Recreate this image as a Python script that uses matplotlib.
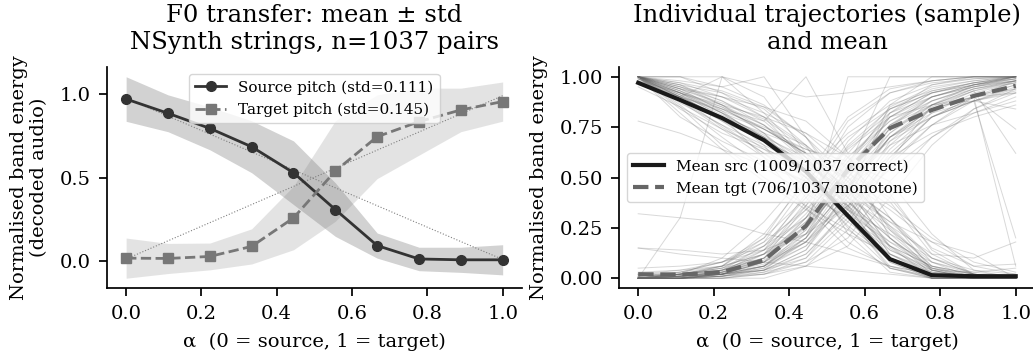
import numpy as np
import matplotlib
matplotlib.use("Agg")
import matplotlib.pyplot as plt

plt.rcParams['font.family'] = ['DejaVu Serif']
plt.rcParams['axes.linewidth'] = 1.25
for ax_ in ('xtick', 'ytick'):
    plt.rcParams[f'{ax_}.major.width'] = 1.25
    plt.rcParams[f'{ax_}.major.size'] = 6
    plt.rcParams[f'{ax_}.major.pad'] = 6
plt.rcParams['axes.spines.top'] = False
plt.rcParams['axes.spines.right'] = False

alpha = [0.0, 1/9, 2/9, 3/9, 4/9, 5/9, 6/9, 7/9, 8/9, 1.0]

src_mean = [0.97, 0.885, 0.795, 0.685, 0.53, 0.31, 0.095, 0.015, 0.01, 0.01]
src_std = [0.133, 0.11, 0.128, 0.155, 0.19, 0.16, 0.075, 0.07, 0.075, 0.09]
tgt_mean = [0.02, 0.018, 0.03, 0.09, 0.26, 0.54, 0.745, 0.835, 0.905, 0.955]
tgt_std = [0.12, 0.09, 0.08, 0.105, 0.19, 0.30, 0.25, 0.20, 0.13, 0.117]

lin_src = [0.975, 0.012]
lin_tgt = [0.015, 0.99]

src_traj = [
    [1.00,0.95,0.88,0.78,0.60,0.35,0.10,0.02,0.00,0.00],
    [1.00,0.90,0.80,0.70,0.55,0.30,0.08,0.00,0.00,0.00],
    [0.98,0.92,0.85,0.72,0.50,0.25,0.05,0.01,0.00,0.01],
    [1.00,0.88,0.76,0.62,0.45,0.28,0.12,0.03,0.01,0.00],
    [1.00,0.97,0.93,0.85,0.70,0.45,0.15,0.02,0.00,0.00],
    [1.00,1.00,1.00,0.90,0.62,0.30,0.05,0.00,0.00,0.00],
    [0.95,0.85,0.74,0.65,0.52,0.38,0.20,0.05,0.01,0.00],
    [1.00,0.80,0.68,0.58,0.48,0.36,0.18,0.04,0.00,0.00],
    [1.00,0.93,0.82,0.66,0.40,0.18,0.05,0.00,0.00,0.00],
    [0.99,0.90,0.83,0.75,0.66,0.50,0.25,0.06,0.02,0.00],
    [1.00,0.86,0.70,0.55,0.42,0.30,0.16,0.06,0.02,0.01],
    [1.00,0.95,0.90,0.80,0.58,0.22,0.03,0.00,0.00,0.00],
    [0.97,0.89,0.78,0.68,0.58,0.46,0.30,0.10,0.02,0.00],
    [1.00,0.92,0.80,0.60,0.35,0.15,0.06,0.02,0.00,0.00],
    [1.00,1.00,0.92,0.80,0.66,0.48,0.22,0.05,0.00,0.00],
    [0.78,0.72,0.64,0.56,0.48,0.38,0.20,0.05,0.00,0.00],
    [1.00,0.90,0.84,0.74,0.62,0.44,0.16,0.00,0.00,0.00],
    [1.00,0.96,0.86,0.72,0.55,0.36,0.14,0.04,0.03,0.05],
    [1.00,0.84,0.72,0.64,0.56,0.42,0.12,0.02,0.00,0.00],
    [1.00,0.94,0.87,0.79,0.65,0.40,0.12,0.01,0.00,0.00],
    [0.99,0.91,0.78,0.64,0.50,0.32,0.18,0.08,0.02,0.00],
    [1.00,0.98,0.95,1.00,0.70,0.40,0.10,0.00,0.00,0.00],
    [1.00,0.90,1.00,0.82,0.60,0.36,0.08,0.00,0.00,0.00],
    [1.00,0.88,0.80,0.72,0.64,0.56,0.38,0.12,0.02,0.00],
    [1.00,0.92,0.82,0.70,0.48,0.26,0.10,0.03,0.01,0.00],
    [0.32,0.30,0.28,0.22,0.18,0.12,0.06,0.02,0.00,0.00],
    [1.00,0.94,0.90,0.85,0.78,0.60,0.30,0.04,0.00,0.00],
    [1.00,0.85,0.66,0.50,0.36,0.24,0.10,0.02,0.00,0.00],
    [1.00,0.93,0.84,0.74,0.62,0.52,0.40,0.15,0.06,0.07],
    [0.98,0.90,0.80,0.68,0.52,0.30,0.06,0.00,0.00,0.00],
    [1.00,0.96,0.88,0.76,0.58,0.40,0.26,0.12,0.10,0.18],
    [1.00,0.89,0.79,0.69,0.57,0.45,0.30,0.08,0.00,0.00],
    [1.00,0.94,0.83,0.68,0.50,0.30,0.14,0.05,0.02,0.00],
    [0.15,0.12,0.10,0.08,0.06,0.04,0.02,0.00,0.00,0.00],
    [1.00,0.91,0.82,0.70,0.52,0.34,0.16,0.06,0.02,0.00],
    [1.00,0.87,0.76,0.66,0.56,0.44,0.28,0.10,0.02,0.00],
    [1.00,1.00,0.95,0.86,0.70,0.50,0.26,0.06,0.00,0.00],
    [1.00,0.90,0.75,0.62,0.50,0.40,0.24,0.08,0.03,0.01],
    [1.00,0.93,0.85,0.76,0.60,0.38,0.16,0.03,0.00,0.00],
    [0.99,0.92,0.82,0.74,0.62,0.48,0.34,0.18,0.06,0.02],
    [1.00,0.92,0.84,0.78,1.00,0.62,0.20,0.02,0.00,0.00],
    [1.00,0.95,0.86,0.74,0.64,0.58,0.48,0.22,0.04,0.00],
    [1.00,0.82,0.64,0.48,0.34,0.22,0.12,0.04,0.00,0.00],
    [1.00,0.97,0.90,0.82,0.72,0.60,0.42,0.14,0.02,0.00],
    [0.99,0.88,0.74,0.60,0.46,0.34,0.22,0.10,0.04,0.02],
    [1.00,0.94,0.86,0.76,0.62,0.44,0.20,0.04,0.00,0.00],
    [1.00,0.91,0.81,0.71,0.58,0.42,0.28,0.18,0.12,0.00],
    [1.00,0.96,0.92,0.84,0.66,0.34,0.10,0.02,0.00,0.00],
    [0.97,0.90,0.80,0.70,0.60,0.50,0.36,0.20,0.08,0.03],
    [1.00,0.92,0.86,0.80,0.72,0.54,0.24,0.04,0.00,0.00],
]

tgt_traj = [
    [0.00,0.00,0.02,0.06,0.20,0.50,0.80,0.92,0.97,1.00],
    [0.00,0.01,0.03,0.10,0.30,0.62,0.85,0.95,0.98,1.00],
    [0.02,0.02,0.04,0.12,0.28,0.50,0.72,0.86,0.94,0.98],
    [0.00,0.00,0.01,0.04,0.14,0.40,0.75,0.90,0.96,1.00],
    [0.00,0.02,0.05,0.16,0.36,0.60,0.78,0.88,0.94,0.97],
    [0.00,0.00,0.00,0.02,0.10,0.35,0.68,0.85,0.93,0.98],
    [0.01,0.03,0.08,0.20,0.40,0.65,0.82,0.90,0.95,0.99],
    [0.00,0.00,0.02,0.08,0.22,0.55,1.00,1.00,1.00,1.00],
    [0.00,0.01,0.02,0.05,0.18,0.45,0.70,0.80,0.88,0.92],
    [0.00,0.00,0.03,0.14,0.42,0.75,0.92,0.98,1.00,1.00],
    [0.00,0.30,1.00,0.95,0.90,0.92,0.95,0.98,1.00,1.00],
    [0.02,0.01,0.02,0.04,0.10,0.30,0.60,0.80,0.90,0.96],
    [0.00,0.02,0.06,0.18,0.46,0.78,0.92,0.97,0.99,1.00],
    [0.00,0.00,0.01,0.03,0.08,0.20,0.48,0.70,0.84,0.92],
    [0.05,0.06,0.08,0.14,0.30,0.54,0.74,0.84,0.90,0.74],
    [0.00,0.00,0.02,0.06,0.24,1.00,1.00,1.00,1.00,1.00],
    [0.00,0.01,0.04,0.12,0.32,0.56,0.76,0.88,0.95,1.00],
    [0.00,0.00,0.00,0.00,0.06,0.24,0.58,0.86,0.96,1.00],
    [0.01,0.02,0.05,0.10,0.25,0.48,0.66,0.76,0.82,0.88],
    [0.00,0.02,0.06,0.20,0.50,0.80,0.94,0.98,1.00,1.00],
    [0.00,0.00,0.02,0.08,0.26,0.52,0.74,0.86,0.93,0.62],
    [0.15,0.14,0.12,0.14,0.22,0.44,0.70,0.86,0.94,0.98],
    [0.00,0.00,0.01,0.05,0.16,0.38,0.64,0.82,0.92,0.97],
    [0.00,0.01,0.03,0.09,0.24,0.50,0.76,0.90,0.96,0.99],
    [0.00,0.00,0.02,0.06,0.18,0.42,0.86,1.00,1.00,1.00],
    [0.02,0.03,0.06,0.12,0.22,0.36,0.54,0.70,0.82,0.90],
    [0.00,0.02,0.04,0.10,0.28,0.58,0.82,0.93,0.97,0.99],
    [0.00,0.00,0.00,0.03,0.12,0.32,0.60,0.80,0.88,0.95],
    [0.00,0.01,0.03,0.08,0.20,0.46,0.72,0.88,0.95,0.98],
    [0.00,0.02,0.10,0.28,0.52,0.72,0.86,0.93,0.97,1.00],
    [0.00,0.00,0.01,0.02,0.06,0.16,0.40,0.66,0.84,0.94],
    [0.00,0.01,0.02,0.06,0.20,0.46,0.70,0.84,0.90,0.94],
    [0.03,0.04,0.06,0.12,0.26,0.48,0.70,0.82,0.88,0.20],
    [0.00,0.00,0.02,0.08,0.30,0.60,0.80,0.90,0.95,0.98],
    [0.00,0.01,0.02,0.04,0.12,0.34,0.62,0.80,0.90,0.96],
    [0.00,0.02,0.05,0.14,0.34,0.58,0.78,0.90,0.96,1.00],
    [0.00,0.00,0.01,0.06,0.22,0.52,0.76,0.86,0.90,0.92],
    [0.01,0.02,0.04,0.10,0.26,0.54,0.80,0.92,0.97,1.00],
    [0.00,0.01,0.03,0.07,0.18,0.40,0.66,0.84,0.93,0.97],
    [0.00,0.00,0.02,0.10,0.36,0.68,0.88,0.96,0.99,1.00],
    [0.00,0.00,0.04,0.16,0.40,0.64,0.80,0.86,0.88,0.84],
    [0.00,0.01,0.06,0.22,0.48,0.70,0.84,0.92,0.96,0.98],
    [0.00,0.00,0.00,0.02,0.08,0.28,0.56,0.76,0.90,0.98],
    [0.02,0.04,0.08,0.16,0.30,0.46,0.60,0.72,0.80,0.86],
    [0.00,0.00,0.02,0.04,0.14,0.44,0.82,0.96,1.00,1.00],
    [0.00,0.02,0.04,0.08,0.18,0.36,0.58,0.76,0.88,0.94],
    [0.00,0.01,0.02,0.12,0.38,0.66,0.84,0.92,0.96,0.99],
    [0.01,0.02,0.03,0.06,0.16,0.42,0.70,0.84,0.90,0.06],
    [0.00,0.00,0.01,0.04,0.20,0.56,0.84,0.94,0.98,1.00],
    [0.00,0.03,0.08,0.18,0.34,0.52,0.68,0.80,0.88,0.93],
]

src_label = "Source pitch (std=0.111)"
tgt_label = "Target pitch (std=0.145)"
msrc_label = "Mean src (1009/1037 correct)"
mtgt_label = "Mean tgt (706/1037 monotone)"

W, H = 1033, 351
fig = plt.figure(figsize=(W/100, H/100), dpi=100)
ax1 = fig.add_axes([107.3/W, 1-288.3/H, (521.5-107.3)/W, (288.3-66.7)/H])
ax2 = fig.add_axes([619.3/W, 1-288.3/H, (1034.6-619.3)/W, (288.3-66.7)/H])

a = np.array(alpha)
sm, ss = np.array(src_mean), np.array(src_std)
tm, ts = np.array(tgt_mean), np.array(tgt_std)

c_src = '#333333'
c_tgt = '#777777'
ax1.fill_between(a, sm-ss, sm+ss, color=c_src, alpha=0.22, lw=0)
ax1.fill_between(a, tm-ts, tm+ts, color=c_tgt, alpha=0.2, lw=0)
ax1.plot([a[0], a[-1]], lin_src, ls=':', color='0.5', lw=0.8)
ax1.plot([a[0], a[-1]], lin_tgt, ls=':', color='0.5', lw=0.8)
ax1.plot(a, sm, '-o', color=c_src, lw=2, ms=7, label=src_label)
ax1.plot(a, tm, '--s', color=c_tgt, lw=2, ms=7, label=tgt_label)
ax1.set_xticks([0, 0.2, 0.4, 0.6, 0.8, 1.0])
ax1.set_yticks([0, 0.5, 1.0])
ax1.tick_params(labelsize=14)
ax1.set_xlabel("α  (0 = source, 1 = target)", fontsize=14, labelpad=7)
ax1.set_ylabel("Normalised band energy\n(decoded audio)", fontsize=14, labelpad=8)
ax1.set_title("F0 transfer: mean ± std\nNSynth strings, n=1037 pairs", fontsize=17.5, pad=13)
ax1.legend(loc='upper center', fontsize=11)

for tr in src_traj + tgt_traj:
    ax2.plot(a, tr, color='0.4', alpha=0.25, lw=0.7)
ax2.plot(a, sm, '-', color='#1a1a1a', lw=3, label=msrc_label)
ax2.plot(a, tm, '--', color='#666666', lw=3, label=mtgt_label)
ax2.set_xticks([0, 0.2, 0.4, 0.6, 0.8, 1.0])
ax2.set_yticks([0, 0.25, 0.5, 0.75, 1.0])
ax2.set_yticklabels(["0.00", "0.25", "0.50", "0.75", "1.00"])
ax2.tick_params(labelsize=14)
ax2.set_xlabel("α  (0 = source, 1 = target)", fontsize=14, labelpad=7)
ax2.set_ylabel("Normalised band energy", fontsize=14, labelpad=8)
ax2.set_title("Individual trajectories (sample)\nand mean", fontsize=17.5, pad=13)
ax2.legend(loc='center left', fontsize=11)

fig.savefig("out.png", dpi=100)
